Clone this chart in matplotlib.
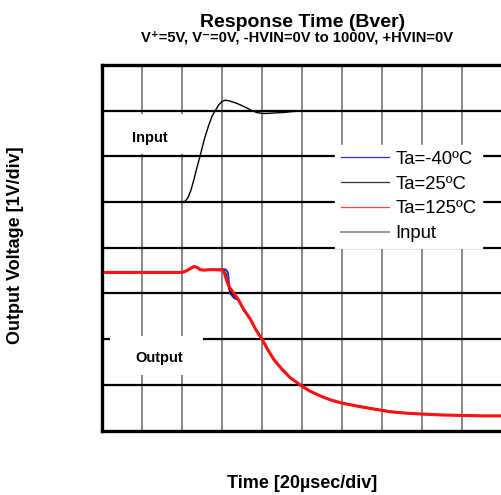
import matplotlib
matplotlib.use("Agg")
import matplotlib.pyplot as plt
from matplotlib.lines import Line2D
from matplotlib.patches import Rectangle

plt.rcParams['font.family'] = ['Liberation Sans', 'DejaVu Sans']

# ---- data (units: divisions; x: 20 usec/div, y: 1 V/div) ----
input_x = [0.08, 2.0, 2.08, 2.15, 2.22, 2.3, 2.38, 2.45, 2.55, 2.66, 2.75, 2.83,
           2.92, 3.0, 3.08, 3.2, 3.37, 3.5, 3.62, 3.75, 3.87, 4.0, 4.12, 4.3,
           4.53, 4.75, 4.95, 5.5, 9.95]
input_y = [5.0, 5.0, 5.02, 5.1, 5.25, 5.5, 5.78, 6.0, 6.35, 6.66, 6.88, 7.0,
           7.13, 7.2, 7.23, 7.21, 7.16, 7.11, 7.06, 7.0, 6.96, 6.94, 6.94, 6.95,
           6.96, 6.98, 6.99, 7.0, 7.0]

out_x = [0.08, 0.5, 1.0, 1.5, 2.0, 2.1, 2.2, 2.3, 2.38, 2.45, 2.55, 2.7, 2.85,
         3.0, 3.05, 3.1, 3.15, 3.2, 3.3, 3.4, 3.55, 3.7, 3.85, 4.0, 4.15, 4.3,
         4.5, 4.7, 4.95, 5.2, 5.5, 5.75, 6.0, 6.4, 6.8, 7.2, 7.6, 8.0, 8.5,
         9.0, 9.5, 9.95]
out_m40 = [3.46, 3.46, 3.46, 3.46, 3.46, 3.49, 3.54, 3.59, 3.57, 3.52, 3.51,
           3.52, 3.52, 3.53, 3.53, 3.52, 3.45, 3.0, 2.9, 2.86, 2.63, 2.45, 2.21,
           2.0, 1.77, 1.55, 1.34, 1.16, 1.0, 0.86, 0.74, 0.66, 0.60, 0.53, 0.47,
           0.42, 0.38, 0.36, 0.34, 0.33, 0.32, 0.32]
out_25 = [3.46, 3.46, 3.46, 3.46, 3.46, 3.49, 3.54, 3.59, 3.57, 3.52, 3.51,
          3.52, 3.52, 3.52, 3.50, 3.42, 3.18, 3.05, 2.95, 2.86, 2.62, 2.45, 2.2,
          2.0, 1.76, 1.55, 1.34, 1.16, 1.0, 0.86, 0.74, 0.66, 0.60, 0.53, 0.47,
          0.41, 0.38, 0.36, 0.34, 0.33, 0.32, 0.32]
out_125 = [3.46, 3.46, 3.46, 3.46, 3.46, 3.49, 3.54, 3.59, 3.57, 3.52, 3.51,
           3.52, 3.52, 3.51, 3.47, 3.33, 3.2, 3.12, 3.0, 2.88, 2.64, 2.45, 2.2,
           2.0, 1.76, 1.55, 1.34, 1.16, 1.0, 0.86, 0.74, 0.66, 0.60, 0.53, 0.47,
           0.41, 0.38, 0.36, 0.34, 0.33, 0.32, 0.32]

legend_labels = ["Ta=-40ºC", "Ta=25ºC", "Ta=125ºC", "Input"]

fig = plt.figure(figsize=(5.01, 4.95), dpi=100)
ax = fig.add_axes([0.2036, 0.1303, 0.7984, 0.7384])
ax.set_xlim(0, 10)
ax.set_ylim(0, 8)
ax.set_xticks([])
ax.set_yticks([])

for xv in range(1, 10):
    ax.axvline(xv, color='#666666', lw=1.1, zorder=1)
for yv in range(1, 8):
    ax.axhline(yv, color='black', lw=1.6, zorder=1)

for s in ['left', 'bottom', 'top']:
    ax.spines[s].set_linewidth(2.4)
ax.spines['right'].set_visible(False)

# white label boxes
ax.add_patch(Rectangle((0.0, 6.05), 2.2, 0.87, facecolor='white', edgecolor='none', zorder=2))
ax.add_patch(Rectangle((0.2, 1.22), 2.32, 0.84, facecolor='white', edgecolor='none', zorder=2))
ax.text(1.2, 6.41, "Input", fontsize=10.5, fontweight='bold', ha='center', va='center', zorder=3)
ax.text(1.43, 1.59, "Output", fontsize=10.5, fontweight='bold', ha='center', va='center', zorder=3)

ax.plot(input_x, input_y, color='black', lw=1.0, zorder=4)
ax.plot(out_x, out_m40, color='#3030c0', lw=1.4, zorder=4)
ax.plot(out_x, out_25, color='black', lw=1.2, zorder=4)
ax.plot(out_x, out_125, color='#ff1010', lw=2.2, zorder=5)

handles = [Line2D([], [], color='#3030c0', lw=0.9),
           Line2D([], [], color='#333333', lw=0.9),
           Line2D([], [], color='#ff4040', lw=0.9),
           Line2D([], [], color='#999999', lw=1.4)]
leg = ax.legend(handles, legend_labels, loc='upper left',
                bbox_to_anchor=(0.583, 0.78), frameon=True, fancybox=False,
                edgecolor='white', facecolor='white', framealpha=1.0,
                fontsize=13.3, handlelength=2.6, handletextpad=0.35,
                labelspacing=0.42, borderpad=0.3, borderaxespad=0.0)
leg.set_zorder(6)

fig.text(0.603, 1 - 27 / 495, "Response Time (Bver)", fontsize=14,
         fontweight='bold', ha='center', va='baseline')
fig.text(0.593, 1 - 42 / 495, "V\u207a=5V, V\u207b=0V, -HVIN=0V to 1000V, +HVIN=0V",
         fontsize=10.6, fontweight='bold', ha='center', va='baseline')
fig.text(0.603, 1 - 483 / 495, "Time [20µsec/div]", fontsize=13,
         fontweight='bold', ha='center', va='center')
fig.text(0.03, 0.505, "Output Voltage [1V/div]", fontsize=13,
         fontweight='bold', ha='center', va='center', rotation=90)

fig.savefig("out.png", dpi=100)
